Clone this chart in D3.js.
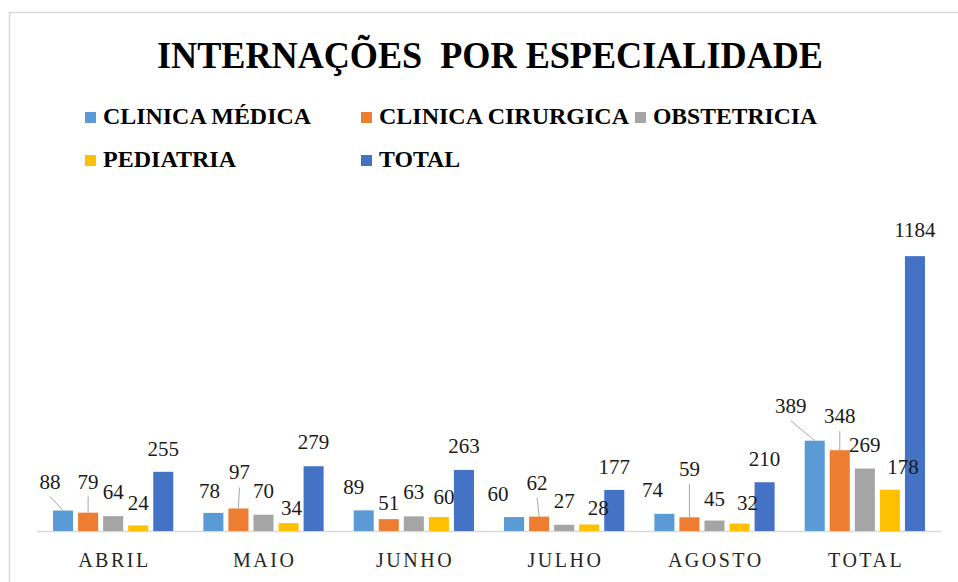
<!DOCTYPE html>
<html>
<head>
<meta charset="utf-8">
<script src="https://cdn.jsdelivr.net/npm/d3@7"></script>
</head>
<body style="margin:0">
<div class="graphic"></div>
<script>
const categories = ["ABRIL", "MAIO", "JUNHO", "JULHO", "AGOSTO", "TOTAL"];
const seriesNames = ["CLINICA MÉDICA", "CLINICA CIRURGICA", "OBSTETRICIA", "PEDIATRIA", "TOTAL"];
const clinicaMedica = [88, 78, 89, 60, 74, 389];
const clinicaCirurgica = [79, 97, 51, 62, 59, 348];
const obstetricia = [64, 70, 63, 27, 45, 269];
const pediatria = [24, 34, 60, 28, 32, 178];
const total = [255, 279, 263, 177, 210, 1184];
const seriesValues = [clinicaMedica, clinicaCirurgica, obstetricia, pediatria, total];
const colors = ["#5B9BD5", "#ED7D31", "#A5A5A5", "#FFC000", "#4472C4"];

// label placement (dx from bar centre, rise of baseline above bar top), like the excel layout
const labelNudge = [
  [[-13, 22], [-4, 15], [-10, 16], [-16, 16], [-12, 17], [-24, 28]],
  [[0, 24], [1, 29], [0, 9], [-2, 27], [0, 41], [0, 27]],
  [[0, 17], [0, 17], [0, 17], [0, 17], [0, 15], [0, 17]],
  [[0, 15], [3, 8], [5, 13], [9, 10], [8, 14], [13, 16]],
  [[0, 16], [0, 17], [0, 17], [0, 16], [0, 16], [0, 19]]
];

const serif = "'Liberation Serif'";
const w_svg = 958, h_svg = 582;
const baseY = 531;

var svg = d3.select(".graphic")
  .append("svg")
  .attr("width", w_svg)
  .attr("height", h_svg);

svg.append("rect")
  .attr("x", 9.5).attr("y", 12.5)
  .attr("width", 970).attr("height", 590)
  .attr("fill", "none")
  .attr("stroke", "#d9d9d9")
  .attr("stroke-width", 1.5);

svg.append("text")
  .attr("x", 157).attr("y", 68)
  .attr("textLength", 666)
  .attr("lengthAdjust", "spacingAndGlyphs")
  .style("white-space", "pre")
  .style("font-family", serif)
  .style("font-size", "37px")
  .style("font-weight", "bold")
  .attr("fill", "#000")
  .text("INTERNAÇÕES  POR ESPECIALIDADE");

// legend
const legendCols = [85, 361, 635];
const legendRows = [124, 167];
const legendWidths = [208, 250, 164, 133, 81];
var legend = svg.selectAll(".legend")
  .data(seriesNames)
  .enter()
  .append("g")
  .attr("class", "legend")
  .attr("transform", (d, i) => "translate(" + legendCols[i % 3] + "," + legendRows[Math.floor(i / 3)] + ")");
legend.append("rect")
  .attr("x", 0).attr("y", -12)
  .attr("width", 11).attr("height", 11)
  .attr("fill", (d, i) => colors[i]);
legend.append("text")
  .attr("x", 18).attr("y", 0)
  .attr("textLength", (d, i) => legendWidths[i])
  .attr("lengthAdjust", "spacingAndGlyphs")
  .style("font-family", serif)
  .style("font-size", "23px")
  .style("font-weight", "bold")
  .attr("fill", "#000")
  .text(d => d);

var x0 = d3.scaleBand()
  .domain(categories)
  .range([38, 940])
  .paddingInner(0.2)
  .paddingOuter(0.1);

var x1 = d3.scaleBand()
  .domain(d3.range(seriesNames.length))
  .range([0, x0.bandwidth()])
  .paddingInner(0.2);

var y = d3.scaleLinear()
  .domain([0, 1400])
  .range([baseY, 206]);

// baseline
svg.append("line")
  .attr("x1", 37).attr("x2", 941)
  .attr("y1", baseY + 0.5).attr("y2", baseY + 0.5)
  .attr("stroke", "#d9d9d9")
  .attr("stroke-width", 1.5);

var xAxis = d3.axisBottom(x0).tickSize(0).tickPadding(0);
var gx = svg.append("g")
  .attr("transform", "translate(1.25," + 567 + ")")
  .call(xAxis);
gx.select(".domain").remove();
gx.selectAll("text")
  .attr("dy", 0)
  .attr("y", 0)
  .style("font-family", serif)
  .style("font-size", "20px")
  .style("letter-spacing", "2.5px")
  .attr("fill", "#262626");

var marks = [];
seriesValues.forEach((vals, s) => {
  vals.forEach((v, c) => {
    marks.push({ s: s, c: c, v: v });
  });
});

var cx = d => x0(categories[d.c]) + x1(d.s) + x1.bandwidth() / 2;

svg.selectAll(".bar")
  .data(marks)
  .enter()
  .append("rect")
  .attr("class", "bar")
  .attr("x", d => x0(categories[d.c]) + x1(d.s))
  .attr("y", d => y(d.v))
  .attr("width", x1.bandwidth())
  .attr("height", d => baseY - y(d.v))
  .attr("fill", d => colors[d.s]);

// leader lines for labels moved away from their bars
svg.selectAll(".leader")
  .data(marks.filter(d => labelNudge[d.s][d.c][1] > 20))
  .enter()
  .append("line")
  .attr("class", "leader")
  .attr("x1", d => cx(d) + labelNudge[d.s][d.c][0])
  .attr("y1", d => y(d.v) - labelNudge[d.s][d.c][1] + 8)
  .attr("x2", d => cx(d))
  .attr("y2", d => y(d.v))
  .attr("stroke", "#a6a6a6")
  .attr("stroke-width", 1);

svg.selectAll(".label")
  .data(marks)
  .enter()
  .append("text")
  .attr("class", "label")
  .attr("x", d => cx(d) + labelNudge[d.s][d.c][0])
  .attr("y", d => y(d.v) - labelNudge[d.s][d.c][1])
  .attr("text-anchor", "middle")
  .style("font-family", serif)
  .style("font-size", "21px")
  .attr("fill", "#1a1a1a")
  .text(d => d.v);
</script>
</body>
</html>
